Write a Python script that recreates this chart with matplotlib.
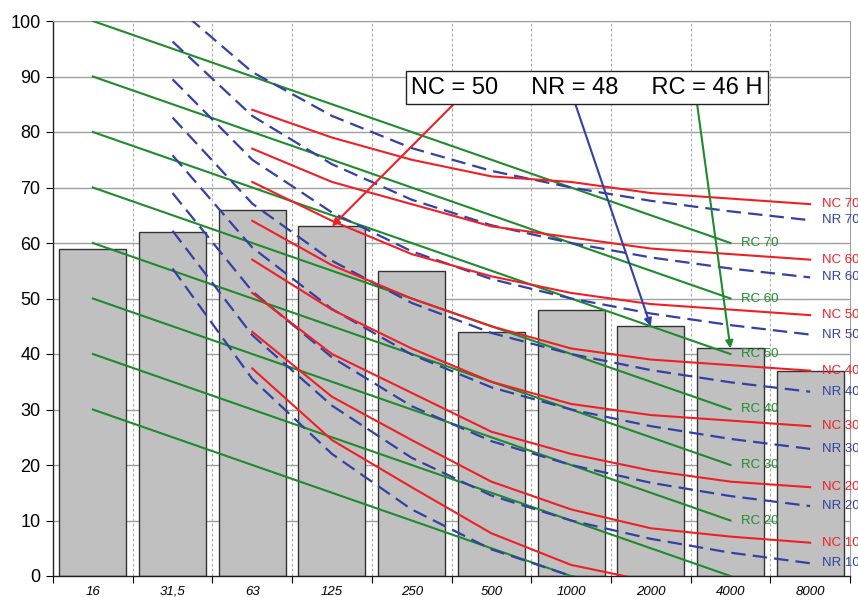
import matplotlib.pyplot as plt
import numpy as np

plt.rcParams['font.family'] = ['Liberation Sans', 'DejaVu Sans']

# octave bands and measured levels (bars)
freqs = ['16', '31,5', '63', '125', '250', '500', '1000', '2000', '4000', '8000']
measured = [59, 62, 66, 63, 55, 44, 48, 45, 41, 37]

# NC curves, 63 Hz .. 8000 Hz
nc_70 = [84, 79, 75, 72, 71, 69, 68, 67]
nc_60 = [77, 71, 67, 63, 61, 59, 58, 57]
nc_50 = [71, 64, 58, 54, 51, 49, 48, 47]
nc_40 = [64, 56, 50, 45, 41, 39, 38, 37]
nc_30 = [57, 48, 41, 35, 31, 29, 28, 27]
nc_20 = [51, 40, 33, 26, 22, 19, 17, 16]
nc_10 = [44, 32.3, 24.5, 17, 12, 8.6, 7.1, 6]
nc_0 = [37.4, 24.5, 16, 7.7, 2, -1, -2, -3]

# NR curves, 31.5 Hz .. 8000 Hz
nr_70 = [103.1, 90.8, 82.9, 77.1, 73.0, 70, 67.6, 65.7, 64.1]
nr_60 = [96.3, 82.9, 74.2, 67.8, 63.2, 60, 57.4, 55.4, 53.8]
nr_50 = [89.5, 75.0, 65.5, 58.5, 53.5, 50, 47.3, 45.2, 43.5]
nr_40 = [82.6, 67.1, 56.8, 49.2, 43.8, 40, 37.1, 34.9, 33.2]
nr_30 = [75.8, 59.2, 48.1, 39.9, 34.0, 30, 27.0, 24.7, 22.9]
nr_20 = [69.0, 51.3, 39.4, 30.6, 24.3, 20, 16.8, 14.4, 12.6]
nr_10 = [62.2, 43.4, 30.7, 21.3, 14.5, 10, 6.7, 4.2, 2.3]
nr_0 = [55.4, 35.5, 22.0, 12.0, 4.8, 0, -3.5, -6.1, -8.0]

# RC curves, 16 Hz .. 4000 Hz
rc_70 = [100, 95, 90, 85, 80, 75, 70, 65, 60]
rc_60 = [90, 85, 80, 75, 70, 65, 60, 55, 50]
rc_50 = [80, 75, 70, 65, 60, 55, 50, 45, 40]
rc_40 = [70, 65, 60, 55, 50, 45, 40, 35, 30]
rc_30 = [60, 55, 50, 45, 40, 35, 30, 25, 20]
rc_20 = [50, 45, 40, 35, 30, 25, 20, 15, 10]
rc_10 = [40, 35, 30, 25, 20, 15, 10, 5, 0]
rc_0 = [30, 25, 20, 15, 10, 5, 0, -5, -10]

nc_curves = [(70, nc_70), (60, nc_60), (50, nc_50), (40, nc_40), (30, nc_30),
             (20, nc_20), (10, nc_10), (None, nc_0)]
nr_curves = [(70, nr_70), (60, nr_60), (50, nr_50), (40, nr_40), (30, nr_30),
             (20, nr_20), (10, nr_10), (None, nr_0)]
rc_curves = [(70, rc_70), (60, rc_60), (50, rc_50), (40, rc_40), (30, rc_30),
             (20, rc_20), (None, rc_10), (None, rc_0)]

summary = 'NC = 50     NR = 48     RC = 46 H'

red = '#ee2026'
blue = '#3341a6'
green = '#1f8b2c'

fig = plt.figure(figsize=(8.58, 5.97), dpi=100, facecolor='white')
ax = fig.add_axes([53 / 858, 21 / 597, 797 / 858, 555 / 597])

x = np.arange(len(freqs))
ax.bar(x, measured, width=0.84, color='#c0c0c0', edgecolor='#333333',
       linewidth=1.0, zorder=2)

# grid: solid horizontal, dashed vertical between categories
for v in range(10, 101, 10):
    ax.axhline(v, color='#a0a0a0', lw=1.0, zorder=1)
for b in np.arange(0.5, len(freqs) - 0.5, 1):
    ax.axvline(b, color='#a8a8a8', lw=0.8, ls=(0, (2.5, 2)), zorder=1)

for lvl, vals in rc_curves:
    xs = x[:len(vals)]
    ax.plot(xs, vals, color=green, lw=1.5, zorder=3)
    if lvl is not None:
        ax.annotate('RC %d' % lvl, (xs[-1], vals[-1]), xytext=(7.5, 0),
                    textcoords='offset points', color=green, fontsize=9.5,
                    va='center', ha='left', zorder=5)

for lvl, vals in nr_curves:
    xs = x[1:1 + len(vals)]
    ax.plot(xs, vals, color=blue, lw=1.6, dashes=(6.5, 3.2), zorder=3)
    if lvl is not None:
        ax.annotate('NR %d' % lvl, (xs[-1], vals[-1]), xytext=(8.5, 0),
                    textcoords='offset points', color=blue, fontsize=9.5,
                    va='center', ha='left', annotation_clip=False, zorder=5)

for lvl, vals in nc_curves:
    xs = x[2:2 + len(vals)]
    ax.plot(xs, vals, color=red, lw=1.5, zorder=4)
    if lvl is not None:
        ax.annotate('NC %d' % lvl, (xs[-1], vals[-1]), xytext=(8.5, 0),
                    textcoords='offset points', color=red, fontsize=9.5,
                    va='center', ha='left', annotation_clip=False, zorder=5)

# result box with arrows
box_x, box_y, box_bottom = 6.2, 88.0, 85.2
ax.text(box_x, box_y, summary, fontsize=17, ha='center', va='center', zorder=7,
        bbox=dict(boxstyle='square,pad=0.24', facecolor='white',
                  edgecolor='#222222', lw=1.0))
arrow_src = [(4.54, red, 3), (6.05, blue, 7), (7.58, green, 8)]
for sx, col, i in arrow_src:
    ax.annotate('', xy=(x[i], measured[i]), xytext=(sx, box_bottom),
                arrowprops=dict(arrowstyle='-|>', color=col, lw=1.5,
                                mutation_scale=11, shrinkA=0, shrinkB=0),
                zorder=6)

ax.set_xlim(-0.5, len(freqs) - 0.5)
ax.set_ylim(0, 100)
ax.set_yticks(range(0, 101, 10))
ax.tick_params(axis='y', labelsize=13, length=5, direction='out', pad=4)
ax.set_xticks(np.arange(-0.5, len(freqs), 1), minor=False)
ax.set_xticklabels([])
ax.set_xticks(x, minor=True)
ax.set_xticklabels(freqs, minor=True, fontsize=9.5, style='italic')
ax.tick_params(axis='x', which='major', length=5, direction='out')
ax.tick_params(axis='x', which='minor', length=0, pad=7)

for s in ['top', 'right']:
    ax.spines[s].set_color('#a0a0a0')
for s in ['left', 'bottom']:
    ax.spines[s].set_color('#222222')
    ax.spines[s].set_linewidth(1.0)

fig.savefig('out.png', dpi=100, facecolor='white')
